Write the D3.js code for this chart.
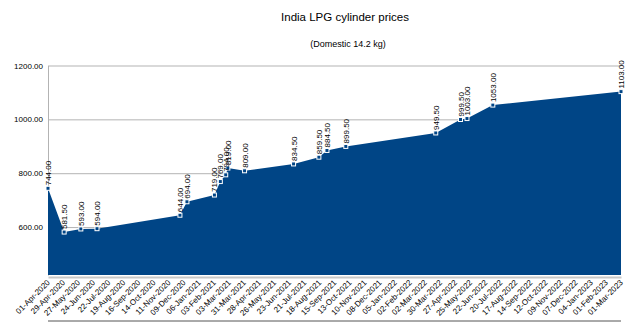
<!DOCTYPE html>
<html><head><meta charset="utf-8">
<script src="https://cdn.jsdelivr.net/npm/d3@7"></script>
<style>
html,body{margin:0;padding:0;background:#fff;}
text{font-family:"Liberation Sans",Arial,sans-serif;}
</style></head>
<body><svg id="c" width="640" height="326"></svg>
<script>
const title = "India LPG cylinder prices";
const subtitle = "(Domestic 14.2 kg)";
const priceDates = ["01-Apr-2020","01-May-2020","01-Jun-2020","01-Jul-2020","02-Dec-2020","15-Dec-2020",
  "04-Feb-2021","15-Feb-2021","25-Feb-2021","01-Mar-2021","01-Apr-2021","01-Jul-2021","17-Aug-2021",
  "01-Sep-2021","06-Oct-2021","22-Mar-2022","07-May-2022","19-May-2022","06-Jul-2022","01-Mar-2023"];
const prices = [744.00,581.50,593.00,594.00,644.00,694.00,719.00,769.00,794.00,819.00,809.00,834.50,859.50,
  884.50,899.50,949.50,999.50,1003.00,1053.00,1103.00];
const xTickLabels = ["01-Apr-2020","29-Apr-2020","27-May-2020","24-Jun-2020","22-Jul-2020","19-Aug-2020",
  "16-Sep-2020","14-Oct-2020","11-Nov-2020","09-Dec-2020","06-Jan-2021","03-Feb-2021","03-Mar-2021",
  "31-Mar-2021","28-Apr-2021","26-May-2021","23-Jun-2021","21-Jul-2021","18-Aug-2021","15-Sep-2021",
  "13-Oct-2021","10-Nov-2021","08-Dec-2021","05-Jan-2022","02-Feb-2022","02-Mar-2022","30-Mar-2022",
  "27-Apr-2022","25-May-2022","22-Jun-2022","20-Jul-2022","17-Aug-2022","14-Sep-2022","12-Oct-2022",
  "09-Nov-2022","07-Dec-2022","04-Jan-2023","01-Feb-2023","01-Mar-2023"];
const yTicks = [600,800,1000,1200];
const yMin = 422, yMax = 1200;

const parse = d3.utcParse("%d-%b-%Y");
const data = priceDates.map((d,i)=>({date:parse(d), value:prices[i]}));
const tickDates = xTickLabels.map(parse);

const L=48, R=621, T=65.5, B=275;
const svg = d3.select("#c");
const x = d3.scaleUtc().domain([parse(xTickLabels[0]), parse(xTickLabels[xTickLabels.length-1])]).range([L,R]);
const y = d3.scaleLinear().domain([yMin,yMax]).range([B,T]);

svg.append("text").attr("x",345).attr("y",21).attr("text-anchor","middle")
  .attr("font-size",11.5).attr("fill","#000").text(title);
svg.append("text").attr("x",348).attr("y",47).attr("text-anchor","middle")
  .attr("font-size",9).attr("fill","#000").text(subtitle);

// y axis with gridlines
const ya = svg.append("g").attr("transform",`translate(${L},0)`)
  .call(d3.axisLeft(y).tickValues(yTicks).tickFormat(d3.format(".2f")).tickSizeInner(-(R-L)).tickSizeOuter(0).tickPadding(5));
ya.select(".domain").attr("stroke","#b3b3b3");
ya.selectAll(".tick line").attr("stroke","#b3b3b3");
ya.selectAll(".tick text").attr("font-size",8).attr("fill","#000").attr("font-family","Liberation Sans, Arial, sans-serif");

// area
const area = d3.area().x(d=>x(d.date)).y0(y(yMin)).y1(d=>y(d.value));
svg.append("path").datum(data).attr("d",area).attr("fill","#004586");

// x axis
const xa = svg.append("g").attr("transform",`translate(0,${B+2})`)
  .call(d3.axisBottom(x).tickValues(tickDates).tickFormat((d,i)=>xTickLabels[i]).tickSize(0).tickPadding(0));
xa.select(".domain").attr("stroke","#c8c8c8").attr("stroke-width",2);
xa.selectAll(".tick text").attr("font-size",8).attr("fill","#000")
  .attr("font-family","Liberation Sans, Arial, sans-serif")
  .attr("text-anchor","end").attr("dy",0)
  .attr("transform","translate(2,6) rotate(-45)");

// markers
svg.append("g").selectAll("rect").data(data).join("rect")
  .attr("x",d=>x(d.date)-2).attr("y",d=>y(d.value)-2).attr("width",4).attr("height",4)
  .attr("fill","#004586").attr("stroke","#fff").attr("stroke-width",1);

// data labels
svg.append("g").selectAll("text").data(data).join("text")
  .attr("transform",d=>`translate(${x(d.date)+3},${y(d.value)-3}) rotate(-90)`)
  .attr("font-size",8).attr("fill","#000").attr("text-anchor","start")
  .text(d=>d3.format(".2f")(d.value));

// bottom frame line
svg.append("line").attr("x1",L).attr("x2",R).attr("y1",321).attr("y2",321).attr("stroke","#555").attr("stroke-width",1);
</script></body></html>
